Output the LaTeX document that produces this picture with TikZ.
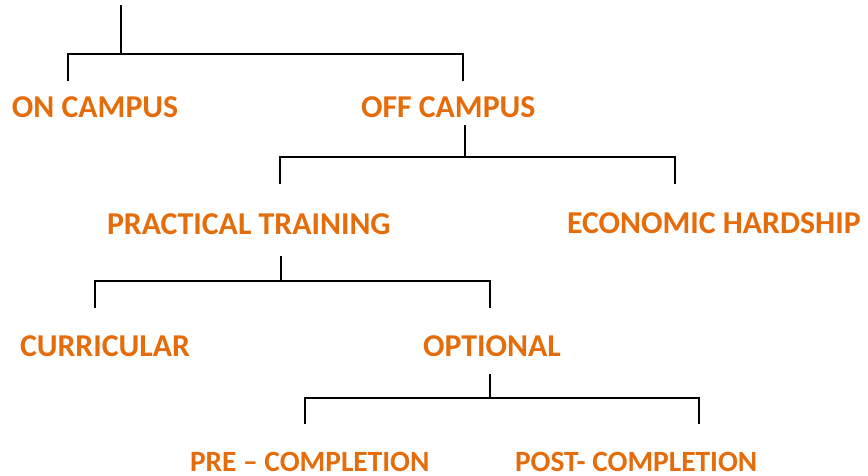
\documentclass[tikz,border=0pt]{standalone}
\usepackage{fontspec}
\setmainfont{Carlito}
\definecolor{lab}{HTML}{E46C0A}
\tikzset{
  lbl/.style={anchor=base west, inner sep=0pt, outer sep=0pt, text=lab, font=\fontsize{31.8}{37}\selectfont\bfseries},
  lblsm/.style={lbl, font=\fontsize{29.4}{35}\selectfont\bfseries},
  conn/.style={draw=black, line width=2pt, line cap=rect}
}
\begin{document}
\begin{tikzpicture}[x=1pt,y=-1pt]
\useasboundingbox (0,0) rectangle (868,475);
% labels
\node[lbl] (on) at (12,117) {ON CAMPUS};
\node[lbl] (off) at (361,117) {OFF CAMPUS};
\node[lbl] (pt) at (107,234) {PRACTICAL TRAINING};
\node[lbl] (eh) at (567,233) {ECONOMIC HARDSHIP};
\node[lbl] (cur) at (20,356) {CURRICULAR};
\node[lbl] (opt) at (423,356) {OPTIONAL};
\node[lblsm] (pre) at (190,471) {PRE – COMPLETION};
\node[lblsm] (post) at (515,471) {POST- COMPLETION};
% coordinates
\coordinate (r0) at (121,6);
\coordinate (r1) at (121,54);
\coordinate (a1) at (68,54);
\coordinate (a2) at (68,80);
\coordinate (b1) at (463,54);
\coordinate (b2) at (463,80);
\coordinate (o0) at (465,126);
\coordinate (o1) at (465,157);
\coordinate (c1) at (280,157);
\coordinate (c2) at (280,183);
\coordinate (d1) at (675,157);
\coordinate (d2) at (675,183);
\coordinate (p0) at (281,257);
\coordinate (p1) at (281,281);
\coordinate (e1) at (95,281);
\coordinate (e2) at (95,307);
\coordinate (f1) at (490,281);
\coordinate (f2) at (490,307);
\coordinate (q0) at (490,375);
\coordinate (q1) at (490,398);
\coordinate (g1) at (305,398);
\coordinate (g2) at (305,423);
\coordinate (h1) at (699,398);
\coordinate (h2) at (699,423);
% connectors
\draw[conn] (r0) -- (r1);
\draw[conn] (a2) -- (a1) -- (b1) -- (b2);
\draw[conn] (o0) -- (o1);
\draw[conn] (c2) -- (c1) -- (d1) -- (d2);
\draw[conn] (p0) -- (p1);
\draw[conn] (e2) -- (e1) -- (f1) -- (f2);
\draw[conn] (q0) -- (q1);
\draw[conn] (g2) -- (g1) -- (h1) -- (h2);
\end{tikzpicture}
\end{document}
